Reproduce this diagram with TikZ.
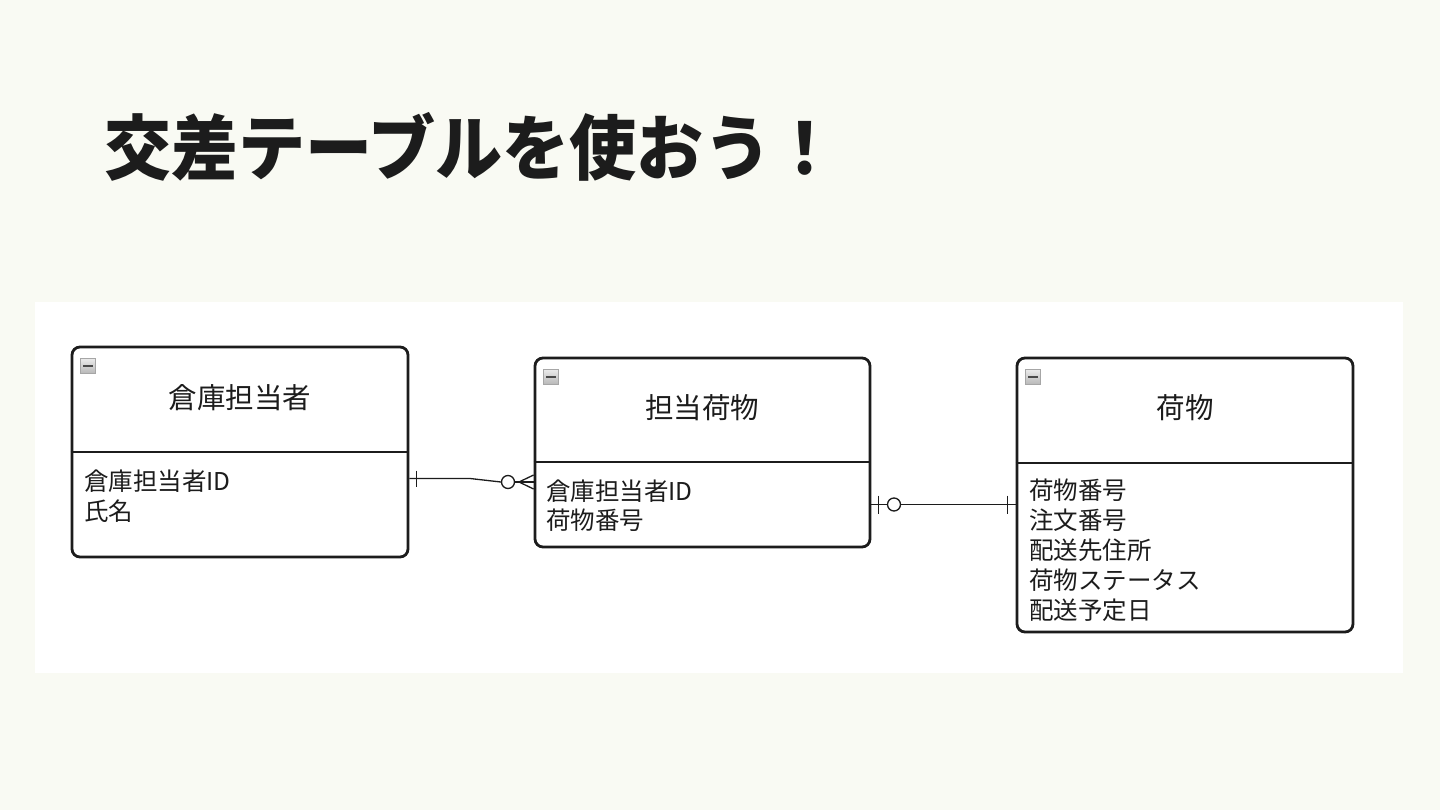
\documentclass[tikz,border=0pt]{standalone}
\usepackage{fontspec}
\setmainfont{Noto Sans CJK JP}
\definecolor{bgc}{HTML}{F9FAF3}
\definecolor{ink}{HTML}{1C1C1C}
\begin{document}
\begin{tikzpicture}[x=1pt,y=-1pt,
  entity/.style={draw=ink, line width=2.8pt, rounded corners=8pt, inner sep=0pt},
  hdr/.style={font=\fontsize{28.5}{30}\selectfont, text=ink, inner sep=0pt},
  attr/.style={font=\fontsize{24.5}{30}\selectfont, text=ink, inner sep=0pt, anchor=west},
  rel/.style={draw=ink, line width=1.3pt},
  icon/.style={draw=gray!70, top color=gray!15, bottom color=gray!55, minimum size=15pt, inner sep=0pt, line width=0.8pt}
]
\useasboundingbox (0,0) rectangle (1440,810);
\fill[bgc] (0,0) rectangle (1440,810);
\fill[white] (35,302) rectangle (1403,673);

% title
\node[anchor=west, inner sep=0pt, text=ink, font=\fontsize{71}{71}\selectfont\bfseries] (title) at (104,147) {\scalebox{0.945}[1]{交差テーブルを使おう！}};

% entities
\node[entity, minimum width=336pt, minimum height=210pt] (e1) at (240,452) {};
\node[entity, minimum width=335pt, minimum height=189pt] (e2) at (702.5,452.5) {};
\node[entity, minimum width=336pt, minimum height=274pt] (e3) at (1185,495) {};

% header dividers
\draw[ink, line width=2.8pt] (e1.west |- 0,452) -- (e1.east |- 0,452);
\draw[ink, line width=2.8pt] (e2.west |- 0,462) -- (e2.east |- 0,462);
\draw[ink, line width=2.8pt] (e3.west |- 0,463) -- (e3.east |- 0,463);

% icons
\foreach \n/\x/\y in {i1/88/365.5, i2/551/376.5, i3/1033/376.5}{
  \node[icon] (\n) at (\x,\y) {};
  \draw[ink!80, line width=2pt] ([xshift=3pt]\n.west) -- ([xshift=-3pt]\n.east);
}

% headers
\node[hdr] (h1) at (240,398) {倉庫担当者};
\node[hdr] (h2) at (702,408) {担当荷物};
\node[hdr] (h3) at (1185,408) {荷物};

% attributes
\node[attr] (a11) at (84,481) {倉庫担当者ID};
\node[attr] (a12) at (84,511) {氏名};
\node[attr] (a21) at (546,491) {倉庫担当者ID};
\node[attr] (a22) at (546,520.5) {荷物番号};
\node[attr] (a31) at (1029,490.5) {荷物番号};
\node[attr] (a32) at (1029,520.5) {注文番号};
\node[attr] (a33) at (1029,550.5) {配送先住所};
\node[attr] (a34) at (1029,580.5) {荷物ステータス};
\node[attr] (a35) at (1029,610.5) {配送予定日};

% relation 1: e1 (one) -- e2 (zero or many)
\coordinate (r1a) at (e1.east |- 0,478.5);
\coordinate (r1b) at (e2.west |- 0,482);
\coordinate (r1k) at (470,478.5);
\node[draw=ink, line width=1.3pt, circle, minimum size=13pt, inner sep=0pt, fill=white] (o1) at (508,482) {};
\coordinate (r1v) at (519,482);
\draw[rel] (r1a) -- (r1k) -- (o1.west);
\draw[rel] (o1.east) -- (r1b);
\draw[rel] (r1v) -- ([yshift=-7pt]r1b);
\draw[rel] (r1v) -- ([yshift=7pt]r1b);
\draw[rel] ([xshift=7pt]r1a) ++(0,-8) -- ++(0,16);

% relation 2: e2 (zero or one) -- e3 (one)
\coordinate (r2a) at (e2.east |- 0,504.5);
\coordinate (r2b) at (e3.west |- 0,504.5);
\node[draw=ink, line width=1.3pt, circle, minimum size=13pt, inner sep=0pt, fill=white] (o2) at (894,504.5) {};
\draw[rel] (r2a) -- (o2.west);
\draw[rel] (o2.east) -- (r2b);
\draw[rel] ([xshift=7pt]r2a) ++(0,-9) -- ++(0,18);
\draw[rel] ([xshift=-8pt]r2b) ++(0,-9) -- ++(0,18);
\end{tikzpicture}
\end{document}
